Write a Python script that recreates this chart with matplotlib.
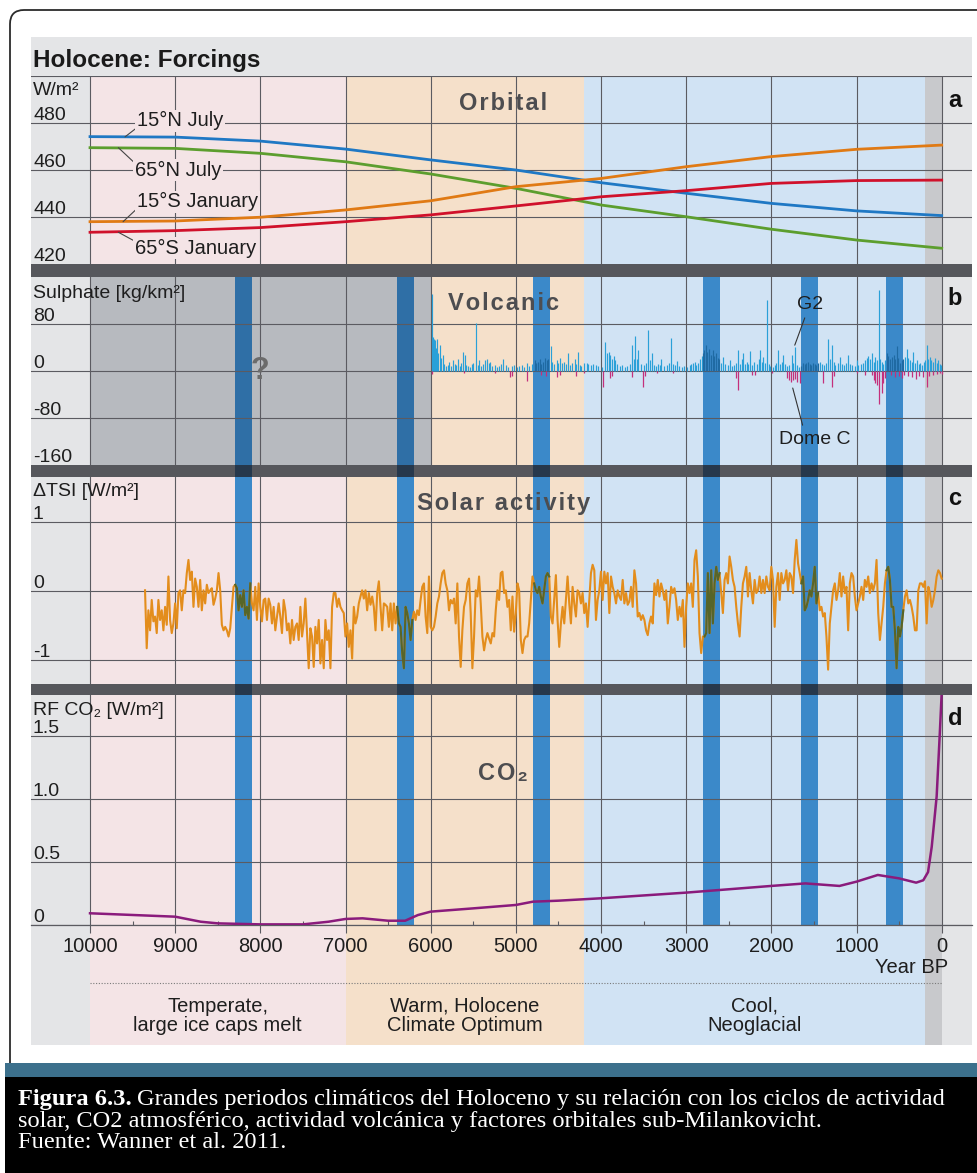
import numpy as np
import matplotlib.pyplot as plt
from matplotlib.patches import Rectangle, FancyBboxPatch
from matplotlib.transforms import offset_copy, blended_transform_factory

plt.rcParams['font.family'] = ['Liberation Sans', 'DejaVu Sans']

### DATOS
# periodos climaticos (anos BP)
period_edges = [10000, 7000, 4200, 200, 0]
period_colors = ['#f4e4e6', '#f5e0ca', '#d1e3f4', '#c8c9cc']
period_names = ['Temperate,\nlarge ice caps melt', 'Warm, Holocene\nClimate Optimum',
                'Cool,\nNeoglacial']

# eventos frios (barras azules)
cold_start = [8300, 6400, 4800, 2800, 1650, 650]
cold_end = [8100, 6200, 4600, 2600, 1450, 450]

# a) insolacion orbital (W/m2)
orb_years = [10000, 9000, 8000, 7000, 6000, 5000, 4000, 3000, 2000, 1000, 0]
n15_july = [474.2, 474.0, 472.3, 468.9, 464.3, 460.0, 454.6, 450.1, 445.8, 442.6, 440.6]
n65_july = [469.5, 469.2, 467.1, 463.5, 458.3, 452.2, 445.1, 440.1, 434.8, 430.2, 426.7]
s15_jan = [438.0, 438.3, 439.9, 443.0, 446.9, 452.9, 456.4, 461.4, 465.7, 468.8, 470.6]
s65_jan = [433.5, 434.2, 435.5, 438.0, 440.9, 444.7, 448.6, 451.2, 454.3, 455.5, 455.7]

# b) sulfato volcanico (kg/km2): G2 (positivo) y Dome C (negativo)
g2 = [(5985, 131), (5975, 58), (5965, 55), (5950, 52), (5940, 40), (5925, 54), (5910, 30),
      (5895, 45), (5880, 22), (5860, 28), (5840, 12), (5820, 8), (5800, 10), (5780, 15),
      (5760, 8), (5740, 18), (5720, 12), (5700, 10), (5680, 20), (5660, 8), (5640, 14),
      (5620, 32), (5600, 28), (5580, 10), (5560, 8), (5540, 6), (5520, 12), (5500, 14),
      (5470, 82), (5450, 10), (5430, 18), (5410, 8), (5380, 12), (5360, 18), (5340, 20),
      (5320, 14), (5300, 16), (5280, 8), (5250, 10), (5220, 6), (5200, 8), (5170, 12),
      (5150, 20), (5120, 10), (5090, 6), (5050, 8), (5020, 10), (4990, 6), (4960, 8),
      (4930, 10), (4900, 6), (4870, 14), (4840, 8), (4810, 12), (4780, 18), (4760, 14),
      (4740, 16), (4720, 20), (4700, 12), (4680, 16), (4660, 22), (4640, 18), (4620, 20),
      (4590, 42), (4570, 16), (4550, 12), (4520, 18), (4500, 14), (4480, 22), (4460, 14),
      (4430, 16), (4410, 12), (4385, 30), (4360, 10), (4340, 14), (4310, 20), (4290, 12),
      (4270, 32), (4250, 10), (4230, 8), (4200, 14), (4170, 13), (4150, 12), (4120, 10),
      (4090, 12), (4060, 10), (4030, 8), (3990, 6), (3950, 50), (3930, 30), (3910, 32),
      (3890, 27), (3870, 20), (3850, 25), (3830, 18), (3810, 12), (3780, 8), (3750, 10),
      (3720, 6), (3690, 8), (3660, 12), (3635, 44), (3615, 20), (3600, 59), (3580, 20),
      (3560, 35), (3530, 12), (3500, 10), (3470, 14), (3445, 69), (3420, 18), (3400, 30),
      (3380, 10), (3360, 8), (3330, 12), (3310, 10), (3290, 20), (3260, 8), (3230, 10),
      (3200, 14), (3180, 57), (3160, 12), (3130, 10), (3110, 17), (3080, 8), (3050, 6),
      (3020, 8), (2990, 6), (2960, 10), (2940, 12), (2920, 13), (2900, 15), (2880, 10),
      (2860, 13), (2840, 20), (2820, 26), (2800, 30), (2790, 35), (2770, 45), (2750, 32),
      (2730, 38), (2710, 28), (2690, 35), (2670, 26), (2650, 30), (2630, 22), (2610, 20),
      (2590, 14), (2565, 23), (2540, 12), (2510, 10), (2490, 18), (2460, 8), (2440, 10),
      (2410, 14), (2390, 35), (2370, 12), (2350, 20), (2330, 30), (2310, 12), (2290, 16),
      (2270, 12), (2250, 34), (2230, 10), (2200, 16), (2170, 12), (2150, 20), (2130, 35),
      (2110, 16), (2095, 23), (2070, 14), (2050, 121), (2030, 12), (2010, 8), (1980, 6),
      (1960, 10), (1940, 14), (1920, 35), (1900, 12), (1880, 16), (1860, 27), (1840, 12),
      (1820, 8), (1790, 10), (1760, 27), (1745, 14), (1725, 41), (1700, 10), (1680, 6),
      (1650, 8), (1630, 14), (1610, 12), (1590, 13), (1570, 16), (1550, 12), (1530, 10),
      (1510, 14), (1490, 12), (1470, 10), (1450, 13), (1430, 16), (1410, 12), (1380, 10),
      (1360, 14), (1335, 55), (1310, 20), (1290, 44), (1270, 16), (1250, 10), (1220, 14),
      (1195, 23), (1170, 12), (1150, 10), (1120, 14), (1100, 27), (1080, 12), (1050, 10),
      (1020, 8), (1000, 18), (980, 10), (950, 12), (920, 14), (900, 18), (880, 22),
      (860, 26), (840, 20), (820, 30), (800, 16), (785, 23), (760, 18), (735, 138),
      (720, 20), (700, 16), (685, 12), (665, 18), (645, 30), (625, 25), (605, 20),
      (585, 23), (565, 28), (545, 20), (530, 42), (510, 22), (490, 14), (470, 18),
      (450, 20), (430, 24), (410, 37), (390, 22), (370, 18), (350, 16), (335, 32),
      (310, 14), (290, 18), (270, 12), (250, 14), (230, 10), (210, 16), (190, 18),
      (175, 44), (160, 20), (140, 23), (120, 18), (100, 15), (80, 22), (60, 14),
      (40, 18), (20, 12), (5, 10)]
domec = [(5980, -5), (5610, -4), (5250, -3), (5070, -10), (5040, -8), (4870, -17), (4700, -6),
         (4650, -8), (4520, -10), (4480, -6), (4290, -8), (4200, -3), (3980, -27), (3900, -12),
         (3870, -8), (3640, -10), (3505, -27), (3480, -8), (3345, -3), (3150, -4), (2420, -12),
         (2390, -32), (2230, -6), (2190, -7), (1995, -3), (1815, -12), (1790, -15), (1770, -18),
         (1750, -16), (1720, -14), (1700, -18), (1665, -20), (1395, -20), (1290, -27),
         (1260, -8), (1000, -4), (900, -6), (820, -7), (800, -15), (780, -20), (760, -24),
         (735, -57), (705, -37), (690, -20), (660, -12), (600, -6), (550, -10), (500, -8),
         (470, -12), (440, -6), (400, -8), (350, -10), (300, -14), (270, -8), (220, -10),
         (175, -27), (150, -8), (100, -6), (50, -5), (20, -4), (0, -5)]
g2_years, g2_sulphate = zip(*g2)
domec_years, domec_sulphate = zip(*domec)
nodata_from, nodata_to = 10000, 6000

# c) actividad solar, delta TSI (W/m2), de 9354 BP a 0 BP
tsi = [0.01, -0.83, -0.28, -0.57, -0.13, -0.44, -0.37, -0.61, -0.13, -0.42,
       -0.28, -0.57, -0.23, -0.49, 0.21, -0.42, -0.61, -0.47, -0.18, -0.54,
       -0.03, 0.01, -0.28, 0.01, -0.03, 0.26, 0.45, 0.16, 0.28, -0.23,
       0.18, 0.06, -0.23, 0.16, -0.28, 0.01, -0.18, 0.09, -0.03, 0.01,
       0.04, -0.20, -0.11, 0.01, 0.26, 0.01, -0.49, -0.57, -0.52, -0.57,
       -0.66, -0.54, -0.23, 0.06, 0.09, 0.04, -0.28, -0.06, -0.23, 0.01,
       -0.35, -0.23, -0.40, 0.11, -0.18, -0.28, 0.06, -0.42, 0.11, -0.23,
       -0.44, -0.13, -0.11, -0.42, -0.11, -0.20, -0.47, -0.23, -0.57, -0.37,
       -0.18, -0.37, -0.61, -0.13, -0.28, -0.57, -0.47, -0.76, -0.42, -0.71,
       -0.52, -0.47, -0.71, -0.23, -0.66, -0.47, -0.11, -0.61, -1.12, -0.54,
       -0.66, -1.10, -0.52, -0.76, -0.42, -1.05, -0.71, -1.12, -0.42, -0.71,
       -0.57, -1.12, -0.23, -0.03, -0.03, -0.23, -0.11, -0.23, -0.28, -0.32,
       -0.66, -0.47, -0.81, -0.57, -0.98, -0.23, -0.47, -0.37, -0.18, -0.08,
       0.01, -0.11, 0.01, -0.28, -0.03, -0.20, -0.08, -0.23, -0.57, -0.03,
       0.14, -0.23, -0.57, -0.18, -0.20, -0.23, -0.52, -0.18, -0.57, -0.18,
       -0.47, -0.23, -0.47, -0.52, -0.90, -1.12, -0.23, -0.32,
       -0.47, -0.71, -0.42, -0.30, -0.42, -0.28, -0.35, -0.13, 0.06, 0.11,
       -0.37, -0.61, 0.21, -0.52, -0.57, -0.52, -0.37, -0.18, -0.08, 0.11,
       0.26, 0.30, 0.11, 0.01, -0.28, -0.13, -0.18, -0.11, -0.47, 0.11,
       -0.66, -1.10, -0.57, -0.23, -0.13, 0.11, 0.18, -0.32, -1.12, -0.66,
       0.01, -0.08, 0.21, -0.18, -0.66, -0.86, -0.71, -0.61, -0.69, -0.76,
       -0.61, -0.66, -0.28, 0.01, -0.13, 0.26, 0.28, -0.03, 0.01, -0.23,
       -0.13, -0.57, -0.08, -0.59, -0.32, 0.11, 0.01, -0.71, -0.90, -0.71,
       -0.66, -0.66, -0.47, -0.13, 0.21, 0.11, 0.01, -0.03, 0.06, -0.08,
       -0.18, 0.01, 0.21, 0.26, 0.21, -0.37, -0.47, -0.13, 0.23, -0.42,
       -0.81, -0.47, -0.23, -0.47, -0.13, 0.21, -0.18, -0.47, 0.06, -0.18,
       -0.37, 0.01, -0.03, -0.18, -0.03, -0.32, -0.18, -0.52, -0.13, 0.26,
       0.38, 0.30, -0.42, -0.13, 0.01, 0.28, -0.13, 0.28, 0.11, 0.26,
       -0.32, 0.21, 0.06, -0.03, -0.18, 0.01, -0.08, -0.13, 0.16, -0.18,
       -0.03, -0.20, -0.15, 0.06, -0.23, 0.30, 0.11, -0.37, -0.32, -0.42,
       -0.35, -0.42, -0.57, -0.64, -0.47, -0.37, -0.47, 0.11, -0.06, 0.16,
       -0.08, 0.11, 0.01, -0.13, 0.01, -0.47, -0.23, 0.06, -0.03, 0.04,
       -0.13, -0.42,
       -0.23, -0.37, -0.13, -0.81, -0.23, 0.11, -0.03, 0.11, -0.23, 0.45,
       0.59, 0.21, -0.61, -0.90, -0.66, -0.66, -0.61, 0.26, -0.61, 0.30,
       -0.47, 0.11, 0.35, 0.16, 0.26, -0.03, -0.32, 0.16, 0.26, 0.11,
       0.50, 0.35, 0.16, 0.06, -0.23, -0.47, -0.66, -0.23, 0.11, 0.21,
       0.35, -0.08, 0.26, 0.01, -0.18, 0.16, -0.03, 0.01, 0.21, -0.03,
       0.16, -0.03, 0.21, 0.06, 0.01, 0.35, 0.16, -0.52, 0.06, 0.26,
       -0.13, 0.26, 0.11, 0.16, 0.30, 0.01, 0.26, 0.21, -0.03, 0.45,
       0.74, 0.40, 0.26, 0.11, 0.21, -0.28, -0.23, -0.13, 0.01, -0.08,
       0.11, 0.35, -0.18, -0.03, -0.28, -0.23, -0.37, -0.32, -0.66, -1.14,
       -0.47, -0.23, 0.01, 0.11, -0.13, 0.01, 0.26, -0.08, 0.21, -0.03,
       0.06, -0.57, 0.11, 0.26, 0.21, -0.08, -0.28, -0.18, -0.08, 0.06,
       -0.13, 0.16, 0.06, 0.21, -0.03, 0.11, 0.01, 0.11, 0.45, -0.32,
       -0.71, -0.47, -0.23, 0.11, 0.30, 0.35, 0.16, -0.23, -0.23, -0.57,
       -1.12, -0.52, -0.66, -0.52, -0.28, -0.08, 0.01, -0.18, -0.13, -0.23,
       -0.37, -0.57, -0.57, 0.01, 0.11, 0.11, 0.06, 0.14, -0.47, 0.06,
       -0.03, -0.23, -0.13, 0.01, 0.21, 0.30, 0.26, 0.18]
tsi_years = np.linspace(9354, 0, len(tsi))

# d) forzamiento radiativo CO2 (W/m2)
co2_years = [10000, 9000, 8700, 8500, 8000, 7500, 7200, 7000, 6800, 6500, 6300, 6150,
             6000, 5500, 5000, 4800, 4500, 4000, 3000, 2000, 1600, 1200, 1000, 750,
             500, 300, 216, 160, 117, 59, 20, 0]
co2_rf = [0.093, 0.066, 0.026, 0.013, 0.005, 0.005, 0.026, 0.048, 0.053, 0.034, 0.034, 0.079,
          0.106, 0.132, 0.159, 0.185, 0.193, 0.212, 0.257, 0.31, 0.33, 0.31, 0.344, 0.397,
          0.37, 0.336, 0.355, 0.42, 0.62, 1.02, 1.55, 1.84]

year_ticks = list(range(10000, -1, -1000))

### FIGURA
W, H = 978, 1173
fig = plt.figure(figsize=(W / 100, H / 100), dpi=100)
fig.patch.set_facecolor('white')

XLIM = (10693, -356)
GRID = '#5b5b61'
SEP = '#56575c'


def axes_px(x0, y0, x1, y1, **kw):
    return fig.add_axes([x0 / W, 1 - y1 / H, (x1 - x0) / W, (y1 - y0) / H], **kw)


def spaced(s):
    return '\u200a'.join(s)


# marco redondeado y pie de figura
frame = axes_px(0, 0, W, H, zorder=-5)
frame.set_xlim(0, W)
frame.set_ylim(H, 0)
frame.axis('off')
frame.add_patch(FancyBboxPatch((10, 10), 1200, 1200, boxstyle='round,pad=0,rounding_size=14',
                               fc='white', ec='#2b2b2b', lw=1.3))
frame.add_patch(Rectangle((5, 1063), 1000, 14, color='#3c708c', lw=0))
frame.add_patch(Rectangle((5, 1077), 1000, 100, color='black', lw=0))

renderer = fig.canvas.get_renderer()
cap_kw = dict(family='Liberation Serif', size=17.6, color='white', va='center')
t_bold = frame.text(18, 1099, 'Figura 6.3.', weight='bold', **cap_kw)
bw = t_bold.get_window_extent(renderer).width
frame.text(18 + bw + 5, 1099, 'Grandes periodos climáticos del Holoceno y su relación con los ciclos de actividad', **cap_kw)
frame.text(18, 1121, 'solar, CO2 atmosférico, actividad volcánica y factores orbitales sub-Milankovicht.', **cap_kw)
frame.text(18, 1143, 'Fuente: Wanner et al. 2011.', **cap_kw)

# capa de fondo: periodos, bandas separadoras, eventos frios
bg = axes_px(31, 37, 972, 1045, zorder=0)
bg.set_xlim(XLIM)
bg.set_ylim(1045, 37)
bg.axis('off')
bg.add_patch(Rectangle((XLIM[0], 37), XLIM[1] - XLIM[0], 1008, color='#e4e5e7', lw=0))
for x0, x1, c in zip(period_edges[:-1], period_edges[1:], period_colors):
    bg.add_patch(Rectangle((x0, 76), x1 - x0, 969, color=c, lw=0))
bg.add_patch(Rectangle((nodata_from, 277), nodata_to - nodata_from, 188, color='#b7babf', lw=0))
for s, e in zip(cold_start, cold_end):
    bg.add_patch(Rectangle((s, 277), e - s, 648, color='#3b89c9', lw=0))
    if e >= nodata_to:
        bg.add_patch(Rectangle((s, 277), e - s, 188, color='#2f6fa6', lw=0))
for t, b in [(264, 277), (465, 477), (684, 695)]:
    bg.add_patch(Rectangle((XLIM[0], t), XLIM[1] - XLIM[0], b - t, color=SEP, lw=0))
    if t > 300:
        for s, e in zip(cold_start, cold_end):
            bg.add_patch(Rectangle((s, t), e - s, b - t, color='#26384c', lw=0))

bg.plot([period_edges[0], period_edges[-1]], [983, 983], color='#7a7a7a', lw=0.8, ls=(0, (1, 1.5)))
for x0, x1, name in zip(period_edges[:-2], period_edges[1:-1], period_names):
    bg.text((x0 + x1) / 2, 1016, name, ha='center', va='center', fontsize=14.5,
            color='#1e1e1e', linespacing=1.05)
bg.text(-74, 967, 'Year BP', ha='right', va='center', fontsize=14.5, color='#1e1e1e')
bg.text(10670, 67, 'Holocene: Forcings', fontsize=17.5, weight='bold', color='#1a1a1a', va='baseline')

# paneles
specs = [(76, 264, (420, 500), [440, 460, 480, 500]),
         (277, 465, (-160, 160), [-80, 0, 80]),
         (477, 684, (-1.348, 1.652), [-1, 0, 1]),
         (695, 925, (0, 1.825), [0, 0.5, 1.0, 1.5])]
axs = []
for top, bot, yl, yt in specs:
    ax = axes_px(31, top, 972, bot, zorder=2)
    ax.set_facecolor('none')
    ax.set_xlim(XLIM)
    ax.set_ylim(*yl)
    ax.set_xticks(year_ticks)
    ax.set_yticks(yt)
    ax.tick_params(length=0, labelbottom=False, labelleft=False)
    for sp in ax.spines.values():
        sp.set_visible(False)
    ax.grid(True, color=GRID, lw=0.8)
    ax.set_axisbelow(True)
    axs.append(ax)

# etiquetas de los ejes y
ytick_vals = [[480, 460, 440, 420], [80, 0, -80, -160], [1, 0, -1], [1.5, 1.0, 0.5, 0]]
ytick_txt = [['480', '460', '440', '420'], ['80', '0', '-80', '-160'], ['1', '0', '-1'],
             ['1.5', '1.0', '0.5', '0']]
units = ['W/m²', 'Sulphate [kg/km²]', 'ΔTSI [W/m²]', 'RF CO₂ [W/m²]']
unit_off = [28, 26, 26, 21]
for ax, vals, txts, unit, off in zip(axs, ytick_vals, ytick_txt, units, unit_off):
    tr = offset_copy(ax.get_yaxis_transform(), fig=fig, x=2, y=3, units='dots')
    for v, s in zip(vals, txts):
        ax.text(0, v, s, transform=tr, va='baseline', ha='left', fontsize=14, color='#1e1e1e')
    tr_u = offset_copy(ax.get_yaxis_transform(), fig=fig, x=2, y=off, units='dots')
    ax.text(0, vals[0], unit, transform=tr_u, va='baseline', ha='left', fontsize=14, color='#1e1e1e')

# titulos y letras de panel
titles = ['Orbital', 'Volcanic', 'Solar activity', 'CO₂']
title_y = [0.819, 0.824, 0.841, 0.630]
letters = ['a', 'b', 'c', 'd']
letter_y = [0.837, 0.851, 0.865, 0.870]
for ax, tt, ty, lt, ly in zip(axs, titles, title_y, letters, letter_y):
    trb = blended_transform_factory(ax.transData, ax.transAxes)
    ax.text(5150, ty, spaced(tt), transform=trb, ha='center', va='baseline', fontsize=17,
            weight='bold', color='#4d4d50', zorder=5)
    ax.text(0.982, ly, lt, transform=ax.transAxes, ha='center', va='baseline', fontsize=17,
            weight='bold', color='#111111', zorder=5)

# a) orbital
ax = axs[0]
orb_series = [n15_july, n65_july, s15_jan, s65_jan]
orb_colors = ['#1f78c4', '#5c9e2e', '#e07a14', '#d0112b']
for vals, col in zip(orb_series, orb_colors):
    ax.plot(orb_years, vals, color=col, lw=2.0, zorder=3)
orb_labels = ['15°N July', '65°N July', '15°S January', '65°S January']
label_pos = [(9448, 480.9), (9471, 460.0), (9448, 446.4), (9471, 426.8)]
label_tip = [(9589, 474.1), (9667, 469.5), (9612, 438.0), (9667, 433.5)]
label_rel = [(0, 0.15), (0, 0.85), (0, 0.15), (0, 0.85)]
for s, p, tip, rel in zip(orb_labels, label_pos, label_tip, label_rel):
    ax.annotate(s, xy=tip, xytext=p, ha='left', va='center', fontsize=14.5, color='#1e1e1e',
                bbox=dict(boxstyle='square,pad=0.08', fc=period_colors[0], ec='none'),
                arrowprops=dict(arrowstyle='-', color='#444444', lw=0.8, shrinkA=0, shrinkB=0,
                                relpos=rel), zorder=4)

# b) volcanico
ax = axs[1]
g2_cold = [any(e <= y <= s for s, e in zip(cold_start, cold_end)) for y in g2_years]
ax.vlines(g2_years, 0, g2_sulphate, colors=['#1f6aa3' if c else '#2aa0d8' for c in g2_cold],
          lw=0.85, zorder=3)
ax.vlines(domec_years, domec_sulphate, 0, colors='#c4307c', lw=0.9, zorder=3)
ax.annotate('G2', xy=(1725, 44), xytext=(1548, 114), ha='center', va='center', fontsize=14,
            color='#1e1e1e', arrowprops=dict(arrowstyle='-', color='#333333', lw=0.8,
                                             shrinkA=2, shrinkB=0), zorder=5)
ax.annotate('Dome C', xy=(1749, -29), xytext=(1490, -116), ha='center', va='center', fontsize=14,
            color='#1e1e1e', arrowprops=dict(arrowstyle='-', color='#333333', lw=0.8,
                                             shrinkA=2, shrinkB=0, relpos=(0.35, 1)), zorder=5)
ax.text(8004, 0, '?', ha='center', va='center', fontsize=22, weight='bold', color='#6b6b6b', zorder=5)

# c) solar
ax = axs[2]
tsi_arr = np.array(tsi)
in_cold = np.zeros(len(tsi), dtype=bool)
for s, e in zip(cold_start, cold_end):
    in_cold |= (tsi_years <= s) & (tsi_years >= e)
ax.plot(tsi_years, tsi_arr, color='#e38d1c', lw=1.5, zorder=3)
ax.plot(tsi_years, np.where(in_cold, tsi_arr, np.nan), color='#56652a', lw=1.5, zorder=4)

# d) CO2
ax = axs[3]
ax.plot(co2_years, co2_rf, color='#8a1b7c', lw=1.8, zorder=3)
ax.spines['bottom'].set_visible(True)
ax.spines['bottom'].set_color(GRID)
ax.spines['bottom'].set_linewidth(0.9)
ax.set_xticks(range(9500, 0, -1000), minor=True)
ax.set_xticklabels([str(y) for y in year_ticks])
ax.tick_params(axis='x', which='major', direction='out', length=6, width=0.8, color=GRID,
               labelbottom=True, labelsize=14.5, labelcolor='#1e1e1e', pad=3)
ax.tick_params(axis='x', which='minor', direction='in', length=3, width=0.8, color=GRID)

plt.savefig('out.png', dpi=100)
